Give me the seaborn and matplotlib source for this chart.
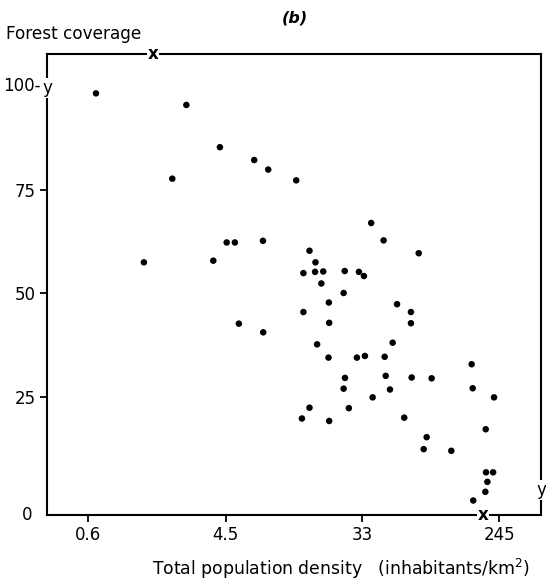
import matplotlib
matplotlib.use("Agg")
import matplotlib.pyplot as plt
import seaborn as sns
import pandas as pd

# Population density (inhabitants/km2) and forest coverage (%) per region
density = [0.675, 2.53, 4.13, 6.82, 8.37, 2.06, 12.6, 4.56, 5.14, 7.75,
           1.36, 3.75, 5.45, 7.78, 37.7, 45.2, 15.3, 75.5, 16.7, 14.0,
           16.6, 18.7, 25.6, 31.5, 33.9, 18.2, 25.2, 20.3, 55.0, 67.4,
           14.0, 20.4, 67.4, 17.1, 51.6, 20.2, 30.6, 34.4, 45.9, 163.7,
           25.7, 46.6, 68.1, 91.2, 25.2, 49.6, 166.2, 38.5, 227.0, 15.3,
           27.2, 13.7, 20.4, 61.1, 201.0, 84.8, 81.2, 121.6, 202.0, 224.0,
           206.0, 200.0, 167.5]
coverage = [98.3, 95.5, 85.3, 82.2, 79.9, 77.7, 77.3, 62.3, 62.3, 62.7,
            57.5, 57.9, 42.7, 40.6, 67.0, 62.8, 60.3, 59.7, 57.5, 54.9,
            55.2, 55.3, 55.4, 55.2, 54.2, 52.4, 50.1, 47.8, 47.4, 45.5,
            45.5, 42.9, 42.8, 37.7, 38.1, 34.5, 34.5, 34.9, 34.7, 32.9,
            29.6, 30.1, 29.7, 29.5, 27.0, 26.8, 27.1, 24.9, 24.9, 22.4,
            22.3, 19.8, 19.2, 20.0, 17.2, 15.3, 12.4, 12.0, 6.8, 6.8,
            4.5, 2.1, 0.0]

x_ticks = [0.6, 4.5, 33, 245]
x_tick_labels = ["0.6", "4.5", "33", "245"]
y_ticks = [25, 50, 75]
y_tick_labels = ["25", "50", "75"]

df = pd.DataFrame({"density": density, "coverage": coverage})

sns.set_style("ticks")
plt.rcParams["font.family"] = ["DejaVu Sans"]
plt.rcParams["text.color"] = "black"

fig = plt.figure(figsize=(5.46, 5.82), dpi=100)
ax = fig.add_axes([47 / 546, 1 - 515 / 582, (541 - 47) / 546, (515 - 54) / 582])

sns.scatterplot(data=df, x="density", y="coverage", ax=ax, color="black",
                s=22, edgecolor="none", legend=False)

ax.set_xscale("log")
ax.set_xlim(0.33, 451)
ax.set_ylim(-3.5, 107.8)

ax.set_xticks(x_ticks)
ax.set_xticklabels(x_tick_labels)
ax.minorticks_off()
ax.set_yticks(y_ticks)
ax.set_yticklabels(y_tick_labels)
ax.tick_params(axis="both", direction="out", length=5, width=1.3,
               labelsize=12, color="black", labelcolor="black", pad=3)
ax.set_xlabel("")
ax.set_ylabel("")

for side in ["left", "right", "top", "bottom"]:
    ax.spines[side].set_visible(True)
    ax.spines[side].set_linewidth(1.5)
    ax.spines[side].set_color("black")

white_box = dict(facecolor="white", edgecolor="none", pad=0.5)

# Axis-end labels and intercept marks drawn over the frame
ax.text(-0.03, 0.0, "0", transform=ax.transAxes, ha="right", va="center",
        fontsize=12, clip_on=False)
ax.text(-0.012, 100, "100-", transform=ax.get_yaxis_transform(),
        ha="right", va="center", fontsize=12, clip_on=False)
ax.text(0.0, 99.6, "y", transform=ax.get_yaxis_transform(),
        ha="center", va="center", fontsize=12, clip_on=False,
        bbox=white_box, zorder=5)
ax.text(1.0, 2.5, "y", transform=ax.get_yaxis_transform(),
        ha="center", va="center", fontsize=12, clip_on=False,
        bbox=white_box, zorder=5)
ax.text(1.55, 1.0, "x", transform=ax.get_xaxis_transform(),
        ha="center", va="center", fontsize=12, fontweight="bold",
        clip_on=False, bbox=white_box, zorder=5)
ax.text(193, 0.0, "x", transform=ax.get_xaxis_transform(),
        ha="center", va="center", fontsize=12, fontweight="bold",
        clip_on=False, bbox=white_box, zorder=5)

fig.text(6 / 546, 1 - 34 / 582, "Forest coverage", ha="left", va="center",
         fontsize=12.2)
fig.text(295 / 546, 1 - 18 / 582, "(b)", ha="center", va="center",
         fontsize=11.5, fontstyle="italic", fontweight="bold")
fig.text(152 / 546, 1 - 569 / 582,
         "Total population density   (inhabitants/km$^{2}$)",
         ha="left", va="center", fontsize=12.4)

fig.savefig("out.png", dpi=100)
